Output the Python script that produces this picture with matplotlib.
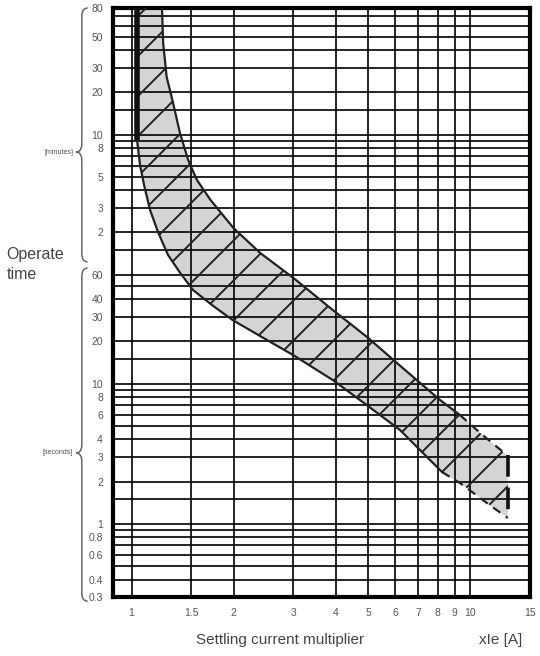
import matplotlib.pyplot as plt
import numpy as np
from matplotlib.path import Path
from matplotlib.patches import PathPatch, Polygon
from matplotlib.transforms import IdentityTransform, blended_transform_factory
from matplotlib.ticker import FixedLocator, NullFormatter

plt.rcParams['font.family'] = ['Liberation Sans', 'DejaVu Sans']

# --- data (x = multiple of Ie, t = seconds) ---
upper_x = [1.23, 1.24, 1.27, 1.32, 1.39, 1.47, 1.56, 1.71, 2.0, 2.4, 3.0, 3.93, 4.96, 6.08, 8.14, 9.32]
upper_t = [4800, 2700, 1540, 1060, 615, 394, 284, 205, 129, 85.5, 57, 33.5, 21.5, 14.0, 7.64, 5.97]
upper_dash_x = [9.32, 10.7, 12.5, 12.9]
upper_dash_t = [5.97, 4.44, 3.25, 3.1]

lower_x = [1.038, 1.038, 1.06, 1.089, 1.134, 1.197, 1.281, 1.39, 1.519, 1.728, 1.99, 2.51, 3.0, 3.93, 4.96, 6.2, 8.25]
lower_t = [4800, 550, 363, 262, 174, 121, 83, 62, 46.6, 36.4, 28.4, 20.5, 16.0, 10.6, 7.0, 4.67, 2.34]
lower_dash_x = [8.25, 9.33, 11.4, 12.9]
lower_dash_t = [2.34, 1.95, 1.36, 1.1]

x_ticks = [1, 1.5, 2, 3, 4, 5, 6, 7, 8, 9, 10, 15]
x_ticklabels = ['1', '1.5', '2', '3', '4', '5', '6', '7', '8', '9', '10', '15']
x_grid = [1, 1.5, 2, 3, 4, 5, 6, 7, 8, 9, 10]

sec_ticks = [0.3, 0.4, 0.6, 0.8, 1, 2, 3, 4, 6, 8, 10, 20, 30, 40, 60]
min_ticks = [2, 3, 5, 8, 10, 20, 30, 50, 80]
sec_grid = [0.3, 0.4, 0.5, 0.6, 0.7, 0.8, 0.9, 1, 1.5, 2, 3, 4, 5, 6, 7, 8, 9,
            10, 15, 20, 30, 40, 50, 60]
min_grid = [1.5, 2, 3, 4, 5, 6, 7, 8, 9, 10, 15, 20, 30, 40, 50, 60, 70]

minutes_span = (74, 4800, 450)    # bottom, top, tip (seconds)
seconds_span = (0.28, 67, 3.2)

# --- figure ---
fig = plt.figure(figsize=(5.4, 6.56), dpi=100)
ax = fig.add_axes([0.2087, 0.0899, 0.7728, 0.8979])
ax.set_xscale('log')
ax.set_yscale('log')
ax.set_xlim(0.88, 15)
ax.set_ylim(0.3, 4800)

# ticks and labels
y_ticks = sec_ticks + [m * 60 for m in min_ticks if m * 60 > 60]
y_labels = [('%g' % v) for v in sec_ticks] + [('%g' % m) for m in min_ticks if m * 60 > 60]
ax.yaxis.set_major_locator(FixedLocator(y_ticks))
ax.set_yticklabels(y_labels)
ax.xaxis.set_major_locator(FixedLocator(x_ticks))
ax.set_xticklabels(x_ticklabels)
ax.yaxis.set_minor_locator(FixedLocator(sec_grid + [m * 60 for m in min_grid]))
ax.xaxis.set_minor_locator(FixedLocator(x_grid))
ax.xaxis.set_minor_formatter(NullFormatter())
ax.yaxis.set_minor_formatter(NullFormatter())
ax.tick_params(which='both', length=0)
ax.tick_params(axis='y', labelsize=7.5, labelcolor='#555555', pad=7)
ax.tick_params(axis='x', labelsize=7.5, labelcolor='#555555', pad=8)

ax.set_axisbelow(False)
ax.grid(True, which='both', color='black', linewidth=1.2)
for s in ax.spines.values():
    s.set_linewidth(3)

# band fill
poly_x = upper_x + upper_dash_x[1:] + lower_dash_x[::-1] + lower_x[::-1][1:]
poly_t = upper_t + upper_dash_t[1:] + lower_dash_t[::-1] + lower_t[::-1][1:]
band = Polygon(np.column_stack([poly_x, poly_t]), closed=True,
               facecolor='#d4d4d4', edgecolor='none', zorder=1)
ax.add_patch(band)

# hatching (45 deg in pixel space), phase through the end of the solid lower edge
xa, ya = ax.transData.transform((lower_x[-1], lower_t[-1]))
bb = ax.bbox
spacing = 40
for k in range(-40, 40):
    c = xa - ya + k * spacing
    ln, = ax.plot([bb.x0, bb.x1], [bb.x0 - c, bb.x1 - c], color='#222222',
                  lw=1.4, transform=IdentityTransform(), zorder=3)
    ln.set_clip_path(band)

# outlines
ax.plot(upper_x, upper_t, color='#222222', lw=1.6, zorder=4)
ax.plot(lower_x[1:], lower_t[1:], color='#222222', lw=1.6, zorder=4)
ax.plot(lower_x[:2], lower_t[:2], color='#111111', lw=4, zorder=4, solid_capstyle='butt')
ax.plot(upper_dash_x, upper_dash_t, color='#222222', lw=1.6, ls=(0, (4, 3)), zorder=4)
ax.plot(lower_dash_x, lower_dash_t, color='#222222', lw=1.6, ls=(0, (4, 3)), zorder=4)
ax.plot([upper_dash_x[-1], lower_dash_x[-1]], [upper_dash_t[-1], lower_dash_t[-1]],
        color='#111111', lw=2.6, ls=(0, (6, 3)), zorder=4)


# braces on the left
def brace(t_lo, t_hi, t_tip, xb=-0.074, w=0.014):
    tr = blended_transform_factory(ax.transAxes, ax.transData)
    ylo, yhi, ym = np.log10(t_lo), np.log10(t_hi), np.log10(t_tip)
    r = 0.06
    pts = [(xb + w, 10 ** yhi), (xb, 10 ** yhi), (xb, 10 ** (yhi - r)),
           (xb, 10 ** (ym + r)), (xb, 10 ** ym), (xb - w, 10 ** ym),
           (xb, 10 ** ym), (xb, 10 ** (ym - r)),
           (xb, 10 ** (ylo + r)), (xb, 10 ** ylo), (xb + w, 10 ** ylo)]
    codes = [Path.MOVETO, Path.CURVE3, Path.CURVE3, Path.LINETO, Path.CURVE3, Path.CURVE3,
             Path.CURVE3, Path.CURVE3, Path.LINETO, Path.CURVE3, Path.CURVE3]
    p = PathPatch(Path(pts, codes), transform=tr, fill=False, edgecolor='#666666',
                  lw=1.1, clip_on=False)
    ax.add_patch(p)
    return tr


tr = brace(*minutes_span)
ax.text(-0.095, minutes_span[2], '[minutes]', transform=tr, ha='right', va='center',
        fontsize=5, color='#555555')
tr = brace(*seconds_span)
ax.text(-0.095, seconds_span[2], '[seconds]', transform=tr, ha='right', va='center',
        fontsize=5, color='#555555')

fig.text(0.012, 0.597, 'Operate\ntime', ha='left', va='center', fontsize=11.5,
         color='#444444', linespacing=1.4)
fig.text(0.518, 0.024, 'Settling current multiplier', ha='center', va='center',
         fontsize=11, color='#444444')
fig.text(0.968, 0.024, 'xIe [A]', ha='right', va='center', fontsize=11, color='#444444')

fig.savefig('out.png', dpi=100)
